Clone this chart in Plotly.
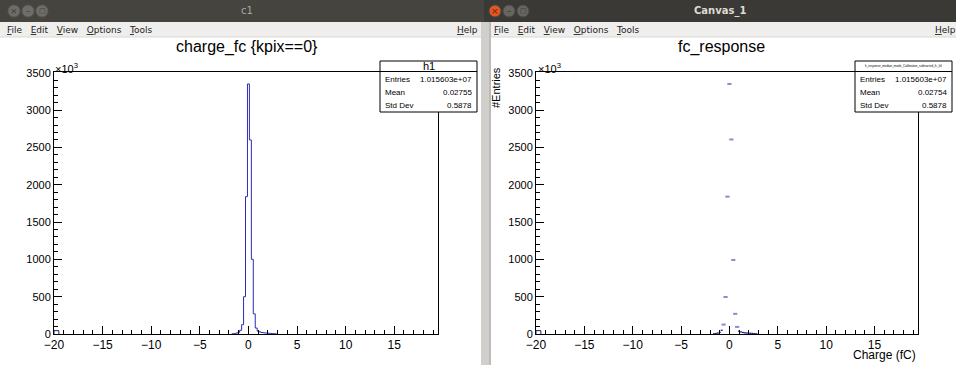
import numpy as np
import plotly.graph_objects as go

W, H = 956, 365


def px(x):
    return x / W


def py(y):
    return 1 - y / H


# ---------------- data (counts in units of 10^3) ----------------
bin_centers = [-1.6, -1.4, -1.2, -1.0, -0.8, -0.6, -0.4, -0.2, 0.0, 0.2,
               0.4, 0.6, 0.8, 1.0, 1.2, 1.4, 1.6, 1.8, 2.0, 2.2, 2.4, 2.6, 2.8]
kpix0_counts = [3, 6, 12, 22, 50, 125, 500, 1840, 3350, 2600,
                1000, 270, 80, 38, 28, 20, 16, 13, 11, 9, 7, 5, 3]
response_counts = [3, 6, 12, 22, 50, 126, 496, 1840, 3350, 2606,
                   992, 270, 95, 38, 28, 20, 16, 13, 11, 9, 7, 5, 3]
bin_width = 0.2
low_edge_bin = [-20.0, -19.5]
low_edge_count = [45]

x_ticks = [-20, -15, -10, -5, 0, 5, 10, 15]
x_tick_text = ["\u221220", "\u221215", "\u221210", "\u22125", "0", "5", "10", "15"]
y_ticks = [0, 500, 1000, 1500, 2000, 2500, 3000, 3500]
y_tick_text = [str(v) for v in y_ticks]

stats_left = [("Entries", "1.015603e+07"), ("Mean", "0.02755"), ("Std Dev", "0.5878")]
stats_right = [("Entries", "1.015603e+07"), ("Mean", "0.02754"), ("Std Dev", "0.5878")]

BLUE = "#2c2cb4"
FONT = "Liberation Sans"
UIFONT = "DejaVu Sans"

fig = go.Figure()

# ---------------- left: step histogram ----------------
c = np.array(bin_centers)
edges = np.append(c - bin_width / 2, c[-1] + bin_width / 2)
k = np.array(kpix0_counts, dtype=float)
xs = np.concatenate([[edges[0]], edges])
ys = np.concatenate([[0], k, [0]])
fig.add_trace(go.Scatter(x=xs, y=ys, mode="lines", line=dict(color=BLUE, width=1, shape="hv"),
                         xaxis="x", yaxis="y", showlegend=False, hoverinfo="skip"))
fig.add_trace(go.Scatter(x=[low_edge_bin[0], low_edge_bin[0], low_edge_bin[1]],
                         y=[0, low_edge_count[0], 0], mode="lines",
                         line=dict(color="#202060", width=1, shape="hv"),
                         xaxis="x", yaxis="y", showlegend=False, hoverinfo="skip"))
fig.add_trace(go.Scatter(x=[low_edge_bin[0], low_edge_bin[0], low_edge_bin[1]],
                         y=[0, low_edge_count[0], 0], mode="lines",
                         line=dict(color="#202060", width=1, shape="hv"),
                         xaxis="x2", yaxis="y2", showlegend=False, hoverinfo="skip"))

# ---------------- right: points for peak bins, steps for tails ----------------
r = np.array(response_counts, dtype=float)
peak = r >= 90
fig.add_trace(go.Scatter(x=c[peak], y=r[peak], mode="markers",
                         marker=dict(symbol="line-ew", size=3, line=dict(width=2, color="#8a8ad2")),
                         xaxis="x2", yaxis="y2", showlegend=False, hoverinfo="skip"))
tx, ty = [], []
for idx in range(len(c)):
    if not peak[idx]:
        tx += [edges[idx], edges[idx + 1], None]
        ty += [r[idx], r[idx], None]
fig.add_trace(go.Scatter(x=tx, y=ty, mode="lines", line=dict(color="#1c1c80", width=1.3),
                         xaxis="x2", yaxis="y2", showlegend=False, hoverinfo="skip"))


def xaxis_cfg(x0, x1, anchor):
    return dict(domain=[px(x0), px(x1)], range=[-20, 19.5], anchor=anchor,
                tickmode="array", tickvals=x_ticks, ticktext=x_tick_text,
                ticks="inside", ticklen=8, tickcolor="black", tickwidth=1,
                minor=dict(tickmode="linear", tick0=0, dtick=1, ticks="inside",
                           ticklen=4, tickcolor="black", tickwidth=1, showgrid=False),
                showline=True, linecolor="black", linewidth=1, mirror=True,
                showgrid=False, zeroline=False, automargin=False,
                tickfont=dict(family=FONT, size=12, color="black"))


def yaxis_cfg(anchor):
    return dict(domain=[py(334), py(72)], range=[0, 3510], anchor=anchor,
                tickmode="array", tickvals=y_ticks, ticktext=y_tick_text,
                ticks="inside", ticklen=8, tickcolor="black", tickwidth=1,
                minor=dict(tickmode="linear", tick0=0, dtick=100, ticks="inside",
                           ticklen=4, tickcolor="black", tickwidth=1, showgrid=False),
                showline=True, linecolor="black", linewidth=1, mirror=True,
                showgrid=False, zeroline=False, automargin=False,
                tickfont=dict(family=FONT, size=11, color="black"))


shapes = []
ann = []


def rect(x0, y0, x1, y1, fill, line=None, lw=0, layer="below"):
    shapes.append(dict(type="rect", xref="paper", yref="paper",
                       x0=px(x0), x1=px(x1), y0=py(y1), y1=py(y0),
                       fillcolor=fill, line=dict(color=line or fill, width=lw), layer=layer))


def text(x, y, s, size, color="black", xanchor="center", family=FONT, angle=0, yanchor="middle"):
    ann.append(dict(xref="paper", yref="paper", x=px(x), y=py(y), text=s, showarrow=False,
                    xanchor=xanchor, yanchor=yanchor, textangle=angle,
                    font=dict(family=family, size=size, color=color)))


# ---------------- window chrome ----------------
rect(0, 0, 484, 22, "#45443f")
rect(484, 0, 956, 22, "#3a3935")
rect(0, 22, 956, 37, "#efeeec")
rect(0, 36.5, 956, 37.5, "#d8d7d4")
rect(481, 22, 491, 365, "#d0cfcc")
rect(489, 22, 491, 365, "#bdbcb9")

for cx, col in [(14, "#6e6d69"), (28, "#6e6d69"), (42, "#6e6d69")]:
    shapes.append(dict(type="circle", xref="paper", yref="paper", x0=px(cx - 6), x1=px(cx + 6),
                       y0=py(17), y1=py(5), fillcolor=col, line=dict(color="#5a5955", width=1)))
for cx, col in [(495, "#e2561f"), (509, "#66655f"), (523, "#66655f")]:
    shapes.append(dict(type="circle", xref="paper", yref="paper", x0=px(cx - 6), x1=px(cx + 6),
                       y0=py(17), y1=py(5), fillcolor=col, line=dict(color="#4a4945", width=1)))
text(14, 11, "\u00d7", 9, "#3e3d39", family=UIFONT)
text(28, 11, "\u2013", 9, "#3e3d39", family=UIFONT)
text(42, 11, "\u25a1", 7, "#3e3d39", family=UIFONT)
text(495, 11, "\u00d7", 9, "#5a2a10", family=UIFONT)
text(509, 11, "\u2013", 9, "#3a3935", family=UIFONT)
text(523, 11, "\u25a1", 7, "#3a3935", family=UIFONT)

text(247, 11, "c1", 10, "#a8a7a2", family=UIFONT)
text(720, 11, "<b>Canvas_1</b>", 10, "#dedbd3", family=UIFONT)

menu = "<u>F</u>ile   <u>E</u>dit   <u>V</u>iew   <u>O</u>ptions   <u>T</u>ools"
text(5, 29.5, menu, 9, "#222222", xanchor="left", family=UIFONT)
text(492, 29.5, menu, 9, "#222222", xanchor="left", family=UIFONT)
text(480, 29.5, "<u>H</u>elp", 9, "#222222", xanchor="right", family=UIFONT)
text(958, 29.5, "<u>H</u>elp", 9, "#222222", xanchor="right", family=UIFONT)

# ---------------- titles & labels ----------------
text(247, 47, "charge_fc {kpix==0}", 16)
text(721, 47, "fc_response", 16)
text(53, 68, "\u00d710<sup>3</sup>", 11, xanchor="left")
text(536, 68, "\u00d710<sup>3</sup>", 11, xanchor="left")
text(496, 88, "#Entries", 11, angle=-90)
text(918, 355, "Charge (fC)", 12, xanchor="right")

# ---------------- stat boxes ----------------
for (bx0, bx1, header, hsize, stats) in [
        (380, 477, "h1", 11, stats_left),
        (855, 952, "h_response_median_mode_Calibration_subtracted_fc_k0", 3, stats_right)]:
    rect(bx0, 61, bx1, 112, "white", "black", 1, layer="above")
    shapes.append(dict(type="line", xref="paper", yref="paper", x0=px(bx0), x1=px(bx1),
                       y0=py(71.5), y1=py(71.5), line=dict(color="black", width=1), layer="above"))
    text((bx0 + bx1) / 2, 66.5, header, hsize)
    for i, (name, val) in enumerate(stats):
        yy = 79 + i * 13
        text(bx0 + 3, yy, name, 8, xanchor="left")
        text(bx1 - 3, yy, val, 8, xanchor="right")

fig.update_layout(
    width=W, height=H, margin=dict(l=0, r=0, t=0, b=0),
    paper_bgcolor="white", plot_bgcolor="white",
    xaxis=xaxis_cfg(54, 438, "y"), yaxis=yaxis_cfg("x"),
    xaxis2=xaxis_cfg(536, 918, "y2"), yaxis2=yaxis_cfg("x2"),
    shapes=shapes, annotations=ann, showlegend=False,
)

fig.write_html("out.html")
